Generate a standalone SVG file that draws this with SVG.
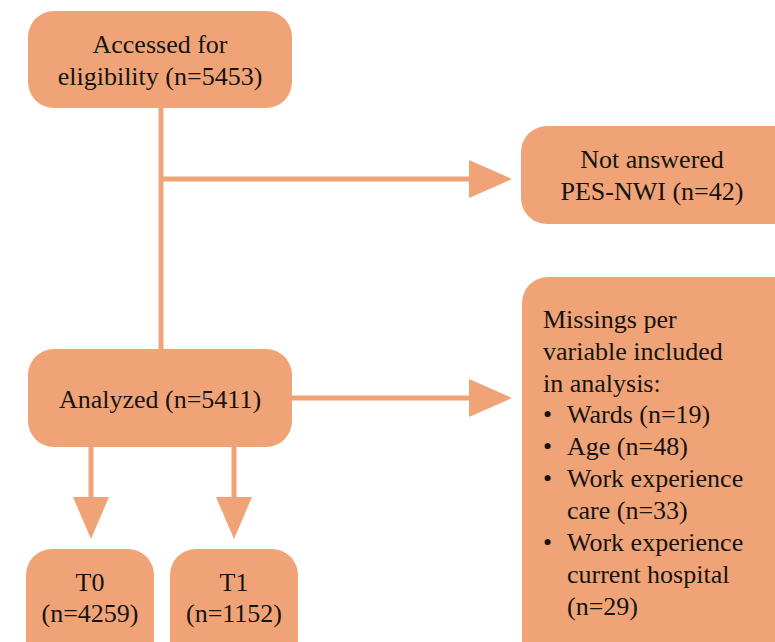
<svg xmlns="http://www.w3.org/2000/svg" width="775" height="642" viewBox="0 0 775 642">
<style>
.box{fill:#F0A377;}
.t{font-family:'Liberation Serif','Times New Roman',serif;font-size:26px;fill:#141414;}
.c{text-anchor:middle;}
.ln{stroke:#F0A377;stroke-width:5;fill:none;}
.ah{fill:#F0A377;}
</style>
<rect width="775" height="642" fill="#ffffff"/>
<g id="connectors">
<line class="ln" x1="161" y1="106" x2="161" y2="351"/>
<line class="ln" x1="161" y1="179" x2="472" y2="179"/>
<polygon class="ah" points="469,160 512,179 469,198"/>
<line class="ln" x1="290" y1="398" x2="472" y2="398"/>
<polygon class="ah" points="469,379 512,398 469,417"/>
<line class="ln" x1="91" y1="445" x2="91" y2="500"/>
<polygon class="ah" points="73,497 109,497 91,539"/>
<line class="ln" x1="234" y1="445" x2="234" y2="500"/>
<polygon class="ah" points="216,497 252,497 234,539"/>
</g>
<g id="accessed">
<rect class="box" x="28" y="11" width="264" height="97" rx="26"/>
<text class="t c" x="160" y="53">Accessed for</text>
<text class="t c" x="160" y="85">eligibility (n=5453)</text>
</g>
<g id="not-answered">
<rect class="box" x="521" y="126" width="290" height="98" rx="26"/>
<text class="t c" x="652" y="168">Not answered</text>
<text class="t c" x="652" y="200">PES-NWI (n=42)</text>
</g>
<g id="analyzed">
<rect class="box" x="28" y="349" width="264" height="98" rx="26"/>
<text class="t c" x="160" y="408">Analyzed (n=5411)</text>
</g>
<g id="t0">
<rect class="box" x="26" y="549" width="128" height="130" rx="26"/>
<text class="t c" x="90" y="591">T0</text>
<text class="t c" x="90" y="622">(n=4259)</text>
</g>
<g id="t1">
<rect class="box" x="170" y="549" width="128" height="130" rx="26"/>
<text class="t c" x="234" y="591">T1</text>
<text class="t c" x="234" y="622">(n=1152)</text>
</g>
<g id="missings">
<rect class="box" x="522" y="277" width="290" height="400" rx="26"/>
<text class="t" x="543" y="328">Missings per</text>
<text class="t" x="543" y="360">variable included</text>
<text class="t" x="543" y="392">in analysis:</text>
<text class="t" x="543" y="423">•</text>
<text class="t" x="567" y="423">Wards (n=19)</text>
<text class="t" x="543" y="455">•</text>
<text class="t" x="567" y="455">Age (n=48)</text>
<text class="t" x="543" y="487">•</text>
<text class="t" x="567" y="487">Work experience</text>
<text class="t" x="567" y="519">care (n=33)</text>
<text class="t" x="543" y="551">•</text>
<text class="t" x="567" y="551">Work experience</text>
<text class="t" x="567" y="583">current hospital</text>
<text class="t" x="567" y="615">(n=29)</text>
</g>
</svg>
